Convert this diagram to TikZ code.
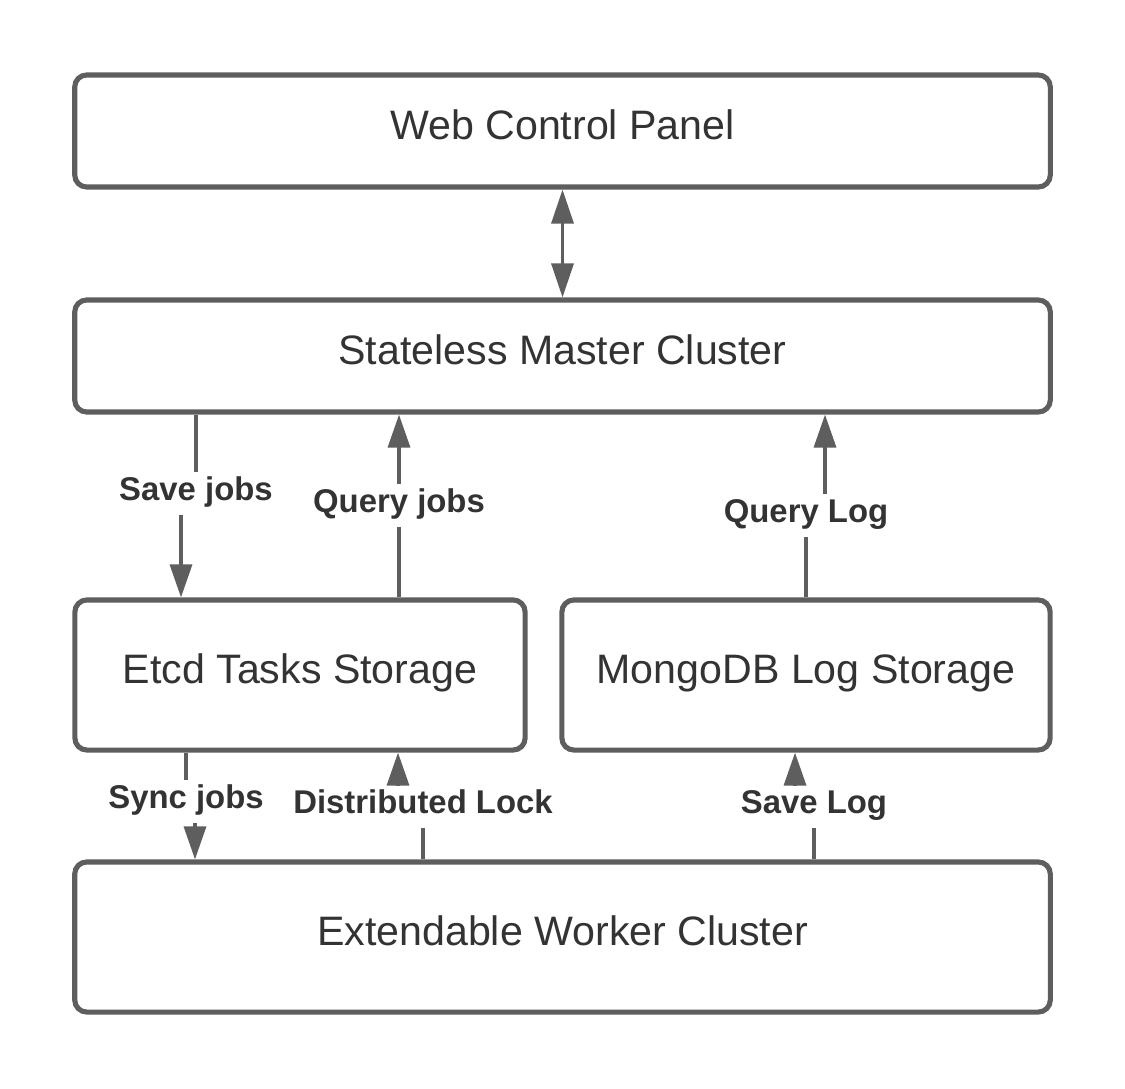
\documentclass[tikz,border=0pt]{standalone}
\usepackage{fontspec}
\setmainfont{Liberation Sans}
\usetikzlibrary{positioning,arrows.meta,calc}
\definecolor{linegray}{HTML}{5E5E5E}
\definecolor{textgray}{HTML}{333333}

\begin{document}
\begin{tikzpicture}[x=0.01cm,y=-0.01cm,
  box/.style={draw=linegray,line width=1.45pt,rounded corners=1.2mm,inner sep=0pt,
    text=textgray,font=\fontsize{11.7}{14}\selectfont,text height=0.29cm,text depth=0.12cm},
  lbl/.style={inner sep=0pt,anchor=base,text=textgray,font=\bfseries\fontsize{9.35}{11}\selectfont,
    text height=0.27cm,text depth=0.14cm},
  conn/.style={draw=linegray,line width=0.95pt},
  arr/.style={conn,-{Triangle[length=3.3mm,width=2.2mm]}},
  arrboth/.style={conn,{Triangle[length=3.4mm,width=2.2mm]}-{Triangle[length=3.4mm,width=2.2mm]}}]
  \useasboundingbox (0,0) rectangle (1125,1088);
  % the five boxes
  \node[box,minimum width=9.75cm,minimum height=1.12cm] (web) at (562.5,131) {Web Control Panel};
  \node[box,minimum width=9.75cm,minimum height=1.12cm] (master) at (562.5,356) {Stateless Master Cluster};
  \node[box,minimum width=4.5cm,minimum height=1.5cm] (etcd) at (300,675) {Etcd Tasks Storage};
  \node[box,minimum width=4.88cm,minimum height=1.5cm] (mongo) at (806,675) {MongoDB Log Storage};
  \node[box,minimum width=9.75cm,minimum height=1.5cm] (worker) at (562.5,937) {Extendable Worker Cluster};
  % web <-> master
  \draw[arrboth] (web) -- (master);
  % master -> etcd
  \node[lbl] (savejobs) at (196,500) {Save jobs};
  \draw[conn] (master.south -| savejobs) -- (savejobs.north);
  \coordinate (sj) at ($(savejobs.south)+(-15,0)$);
  \draw[arr] (sj) -- (sj |- etcd.north);
  % etcd -> master
  \node[lbl] (queryjobs) at (399,512) {Query jobs};
  \draw[conn] (etcd.north -| queryjobs) -- (queryjobs.south);
  \draw[arr] (queryjobs.north) -- (queryjobs.north |- master.south);
  % mongo -> master
  \node[lbl] (querylog) at (806,522) {Query Log};
  \draw[conn] (mongo.north -| querylog) -- (querylog.south);
  \coordinate (ql) at ($(querylog.north)+(19,0)$);
  \draw[arr] (ql) -- (ql |- master.south);
  % etcd -> worker
  \node[lbl] (syncjobs) at (186,808) {Sync jobs};
  \draw[conn] (etcd.south -| syncjobs) -- (syncjobs.north);
  \coordinate (sy) at ($(syncjobs.south)+(9,0)$);
  \draw[arr] (sy) -- (sy |- worker.north);
  % worker -> etcd
  \node[lbl] (lock) at (423,813) {Distributed Lock};
  \draw[conn] (worker.north -| lock) -- (lock.south);
  \coordinate (dl) at ($(lock.north)+(-25,0)$);
  \draw[arr] (dl) -- (dl |- etcd.south);
  % worker -> mongo
  \node[lbl] (savelog) at (814,813) {Save Log};
  \draw[conn] (worker.north -| savelog) -- (savelog.south);
  \coordinate (sl) at ($(savelog.north)+(-19,0)$);
  \draw[arr] (sl) -- (sl |- mongo.south);
\end{tikzpicture}
\end{document}
